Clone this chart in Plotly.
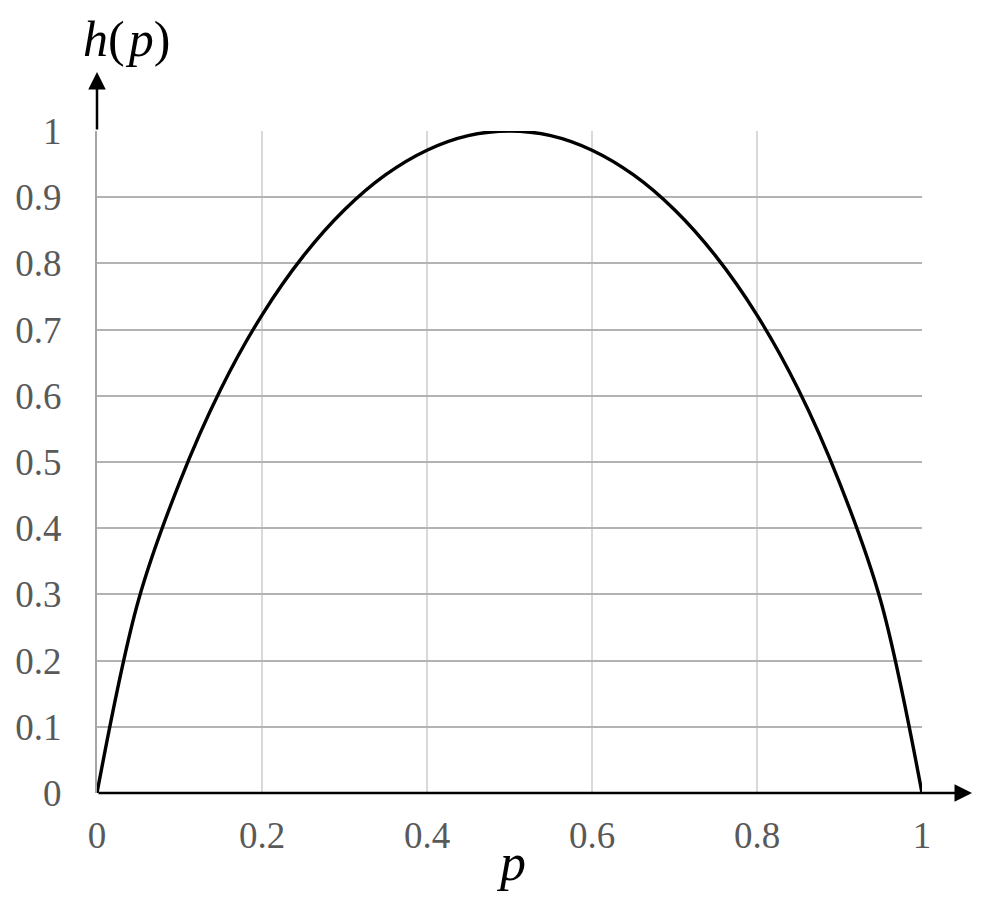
import plotly.graph_objects as go

p_vals = [0, 0.05, 0.1, 0.15, 0.2, 0.25, 0.3, 0.35, 0.4, 0.45, 0.5,
          0.55, 0.6, 0.65, 0.7, 0.75, 0.8, 0.85, 0.9, 0.95, 1.0]
h_vals = [0, 0.29, 0.469, 0.61, 0.722, 0.811, 0.881, 0.934, 0.971, 0.993, 1.0,
          0.993, 0.971, 0.934, 0.881, 0.811, 0.722, 0.61, 0.469, 0.29, 0]
x_ticks = [0, 0.2, 0.4, 0.6, 0.8, 1]
x_tick_labels = ["0", "0.2", "0.4", "0.6", "0.8", "1"]
y_ticks = [0, 0.1, 0.2, 0.3, 0.4, 0.5, 0.6, 0.7, 0.8, 0.9, 1]
y_tick_labels = ["0", "0.1", "0.2", "0.3", "0.4", "0.5", "0.6", "0.7", "0.8", "0.9", "1"]

serif = "Liberation Serif, Times New Roman, serif"

# plot area in image pixels (page body has an 8px margin)
L, R, T, B = 97, 922, 131, 793


def px2paper(px, py):
    return (px - L) / (R - L), (B - py) / (B - T)


fig = go.Figure()
fig.add_trace(go.Scatter(x=p_vals, y=h_vals, mode="lines",
                         line=dict(color="black", width=3.4, shape="spline", smoothing=1.0),
                         showlegend=False, hoverinfo="skip"))

fig.update_layout(
    width=974, height=910,
    margin=dict(l=L - 8, r=982 - R, t=T - 8, b=918 - B),
    plot_bgcolor="white", paper_bgcolor="white",
    xaxis=dict(range=[0, 1], tickvals=x_ticks, ticktext=x_tick_labels,
               showgrid=True, gridcolor="#d9d9d9", gridwidth=2,
               zeroline=False, showline=False, automargin=False,
               tickfont=dict(family=serif, size=37, color="#595959"),
               ticks="", ticklabelstandoff=17),
    yaxis=dict(range=[0, 1], tickvals=y_ticks, ticktext=y_tick_labels,
               showgrid=True, gridcolor="#b3b3b3", gridwidth=2,
               zeroline=False, showline=True, linecolor="#a6a6a6", linewidth=2,
               automargin=False,
               tickfont=dict(family=serif, size=37, color="#595959"),
               ticks="", ticklabelstandoff=26),
)

# axis arrows
hx, hy = px2paper(972, B)
fig.add_annotation(x=hx, y=0, xref="paper", yref="paper", ax=-(972 - L), ay=0,
                   showarrow=True, arrowhead=2, arrowsize=1.4, arrowwidth=2.5,
                   arrowcolor="black", text="")
vx, vy = px2paper(L, 72)
fig.add_annotation(x=0, y=vy, xref="paper", yref="paper", ax=0, ay=T - 72,
                   showarrow=True, arrowhead=2, arrowsize=1.4, arrowwidth=2.5,
                   arrowcolor="black", text="")

tx, ty = px2paper(126, 9)
fig.add_annotation(x=tx, y=ty, xref="paper", yref="paper",
                   xanchor="center", yanchor="top",
                   text="<i>h</i>(&#8202;<i>p</i>)",
                   showarrow=False, font=dict(family=serif, size=50, color="black"))
px_, py_ = px2paper(511, 862)
fig.add_annotation(x=px_, y=py_, xref="paper", yref="paper",
                   xanchor="center", yanchor="middle", text="<i>p</i>",
                   showarrow=False, font=dict(family=serif, size=52, color="black"))

fig.write_html("out.html")
